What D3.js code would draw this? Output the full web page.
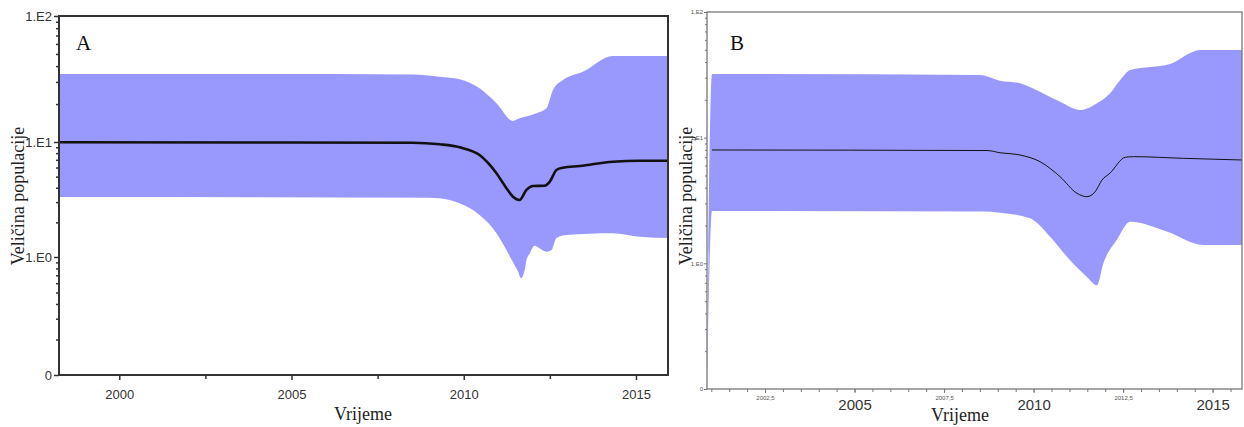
<!DOCTYPE html>
<html><head><meta charset="utf-8">
<script src="https://cdn.jsdelivr.net/npm/d3@7"></script>
<style>body{margin:0;background:#fff}svg{display:block}</style>
</head><body><svg id="c" width="1244" height="427"></svg>
<script>
// ---------- Panel A data ----------
const aUpperYears = [1998.25, 2008.5, 2009.3, 2009.88, 2010.46, 2010.95, 2011.43, 2011.62, 2012.11, 2012.4, 2012.59, 2012.88, 2013.46, 2014.33, 2015.93];
const aUpper      = [34.7, 34.4, 33.0, 31.5, 26.7, 20.3, 14.7, 15.4, 16.9, 18.5, 25.9, 31.0, 36.1, 48.2, 48.2];
const aLowerYears = [1998.25, 2009.0, 2009.3, 2009.88, 2010.46, 2010.95, 2011.24, 2011.45, 2011.58, 2011.66, 2011.78, 2011.82, 2011.92, 2012.06, 2012.2, 2012.4, 2012.55, 2012.69, 2012.98, 2014.33, 2015.11, 2015.93];
const aLower      = [3.32, 3.28, 3.24, 2.93, 2.32, 1.61, 1.15, 0.88, 0.75, 0.66, 0.80, 0.94, 1.08, 1.25, 1.19, 1.11, 1.15, 1.46, 1.55, 1.61, 1.50, 1.46];
const aMedianYears = [1998.25, 2005, 2008.5, 2009.3, 2009.88, 2010.46, 2010.95, 2011.24, 2011.43, 2011.62, 2011.82, 2012.01, 2012.35, 2012.5, 2012.69, 2012.88, 2013.37, 2014.33, 2015.11, 2015.93];
const aMedian      = [9.95, 9.9, 9.85, 9.55, 9.0, 7.7, 5.35, 3.96, 3.34, 3.13, 3.83, 4.14, 4.17, 4.52, 5.71, 5.98, 6.18, 6.74, 6.88, 6.88];
const aXTicks = [2000, 2005, 2010, 2015];
const aXMinor = [2002.5, 2007.5, 2012.5];
const aYTicks = [0.1, 1, 10, 100];
const aYLabels = ["0", "1.E0", "1.E1", "1.E2"];

// ---------- Panel B data ----------
const bUpperYears = [2000.88, 2001.02, 2008.5, 2009.06, 2009.62, 2010.27, 2010.74, 2011.30, 2011.77, 2012.13, 2012.42, 2012.70, 2013.81, 2014.46, 2014.64, 2015.82];
const bUpper      = [0.1, 32.1, 31.5, 28.4, 27.1, 22.5, 19.3, 16.6, 18.8, 22.5, 28.8, 34.6, 38.6, 48.3, 49.8, 49.8];
const bLowerYears = [2000.88, 2001.02, 2008.6, 2009.06, 2009.90, 2010.46, 2011.02, 2011.49, 2011.77, 2011.95, 2012.32, 2012.70, 2013.72, 2014.74, 2015.82];
const bLower      = [0.1, 2.61, 2.58, 2.53, 2.28, 1.63, 1.06, 0.78, 0.67, 1.00, 1.53, 2.14, 1.79, 1.40, 1.40];
const bMedianYears = [2001.02, 2008.7, 2009.06, 2009.62, 2010.18, 2010.74, 2011.21, 2011.49, 2011.72, 2011.91, 2012.13, 2012.56, 2012.79, 2014.18, 2015.82];
const bMedian      = [7.98, 7.9, 7.59, 7.28, 6.44, 4.89, 3.61, 3.39, 3.72, 4.60, 5.21, 6.98, 7.06, 6.85, 6.64];
const bXTicks = [2005, 2010, 2015];
const bXSmall = [2002.5, 2007.5, 2012.5];
const bXSmallLabels = ["2002,5", "2007,5", "2012,5"];
const bYTicks = [0.1, 1, 10, 100];
const bYLabels = ["0", "1,E0", "1,E1", "1,E2"];

const yTitle = "Veličina populacije";
const xTitle = "Vrijeme";
const bandColor = "#9999fd";

const svg = d3.select("#c");
svg.append("rect").attr("width", 1244).attr("height", 427).attr("fill", "#fff");

function minorLog(lo, hi) {
  const out = [];
  for (let d = lo; d < hi - 1e-9; d *= 10)
    for (let k = 2; k <= 9; k++) out.push(+(k * d).toPrecision(3));
  return out;
}
function zip(xs, ys) { return xs.map((x, i) => [x, ys[i]]); }

function drawBand(g, x, y, bottom, upYears, up, loYears, lo) {
  const area = d3.area().x(d => x(d[0])).y0(bottom).y1(d => y(d[1])).curve(d3.curveMonotoneX);
  g.append("path").attr("d", area(zip(upYears, up))).attr("fill", bandColor);
  g.append("path").attr("d", area(zip(loYears, lo))).attr("fill", "#fff");
}

// ================= Panel A =================
(function () {
  const L = 59, R = 668, T = 16, B = 375;
  const x = d3.scaleLinear().domain([1998.25, 2015.93]).range([L, R]);
  const y = d3.scaleLog().domain([0.1, 1, 10, 100]).range([B, 257, 142, T]);
  const g = svg.append("g");
  drawBand(g, x, y, B, aUpperYears, aUpper, aLowerYears, aLower);
  g.append("path").attr("d", d3.line().x(d => x(d[0])).y(d => y(d[1])).curve(d3.curveMonotoneX)(zip(aMedianYears, aMedian)))
    .attr("fill", "none").attr("stroke", "#111").attr("stroke-width", 2.6);

  g.append("rect").attr("x", L).attr("y", T).attr("width", R - L).attr("height", B - T)
    .attr("fill", "none").attr("stroke", "#333").attr("stroke-width", 2);

  g.append("g").attr("transform", `translate(0,${B})`)
    .call(d3.axisBottom(x).tickValues(aXTicks).tickFormat(d3.format("d")).tickSize(5).tickPadding(10));
  g.append("g").attr("transform", `translate(0,${B})`)
    .call(d3.axisBottom(x).tickValues(aXMinor).tickFormat("").tickSize(4));
  g.append("g").attr("transform", `translate(${L},0)`)
    .call(d3.axisLeft(y).tickValues(aYTicks).tickFormat((d, i) => aYLabels[i]).tickSize(5).tickPadding(2));
  g.append("g").attr("transform", `translate(${L},0)`)
    .call(d3.axisLeft(y).tickValues(minorLog(0.1, 100)).tickFormat("").tickSize(3));
  g.selectAll(".domain").remove();
  g.selectAll(".tick line").attr("stroke", "#333").attr("stroke-width", 1.5);
  g.selectAll(".tick text").attr("fill", "#333").style("font-family", "Liberation Sans, Arial, sans-serif").style("font-size", "13px");

  g.append("text").attr("x", 76).attr("y", 50).text("A")
    .style("font-family", "Liberation Serif, Times New Roman, serif").style("font-size", "21px").attr("fill", "#111");
  g.append("text").attr("x", 363).attr("y", 420).attr("text-anchor", "middle").text(xTitle)
    .style("font-family", "Liberation Serif, Times New Roman, serif").style("font-size", "18px").attr("fill", "#222");
  g.append("text").attr("transform", "translate(24,196) rotate(-90)").attr("text-anchor", "middle").text(yTitle)
    .style("font-family", "Liberation Serif, Times New Roman, serif").style("font-size", "18px").attr("fill", "#222");
})();

// ================= Panel B =================
(function () {
  const L = 707, R = 1242, T = 12, B = 389;
  const x = d3.scaleLinear().domain([2000.88, 2015.82]).range([L, R]);
  const y = d3.scaleLog().domain([0.1, 100]).range([B, T]);
  const g = svg.append("g");
  drawBand(g, x, y, B, bUpperYears, bUpper, bLowerYears, bLower);
  g.append("path").attr("d", d3.line().x(d => x(d[0])).y(d => y(d[1])).curve(d3.curveMonotoneX)(zip(bMedianYears, bMedian)))
    .attr("fill", "none").attr("stroke", "#111").attr("stroke-width", 1);

  g.append("rect").attr("x", L).attr("y", T).attr("width", R - L).attr("height", B - T)
    .attr("fill", "none").attr("stroke", "#777").attr("stroke-width", 1.3);

  const minorX = d3.range(2001, 2015.8, 0.5);
  g.append("g").attr("transform", `translate(0,${B})`)
    .call(d3.axisBottom(x).tickValues(minorX).tickFormat("").tickSize(3));
  g.append("g").attr("transform", `translate(0,${B})`)
    .call(d3.axisBottom(x).tickValues(bXSmall).tickFormat((d, i) => bXSmallLabels[i]).tickSize(4).tickPadding(3))
    .selectAll("text").style("font-size", "6px").attr("fill", "#555");
  g.append("g").attr("transform", `translate(0,${B})`)
    .call(d3.axisBottom(x).tickValues(bXTicks).tickFormat(d3.format("d")).tickSize(4).tickPadding(6))
    .selectAll("text").style("font-size", "15px").attr("fill", "#333");
  g.append("g").attr("transform", `translate(${L},0)`)
    .call(d3.axisLeft(y).tickValues(bYTicks).tickFormat((d, i) => bYLabels[i]).tickSize(3).tickPadding(1))
    .selectAll("text").style("font-size", "6px").attr("fill", "#555");
  g.append("g").attr("transform", `translate(${L},0)`)
    .call(d3.axisLeft(y).tickValues(minorLog(0.1, 100)).tickFormat("").tickSize(2));
  g.selectAll(".domain").remove();
  g.selectAll(".tick line").attr("stroke", "#777").attr("stroke-width", 1);
  g.selectAll(".tick text").style("font-family", "Liberation Sans, Arial, sans-serif");

  g.append("text").attr("x", 730).attr("y", 50).text("B")
    .style("font-family", "Liberation Serif, Times New Roman, serif").style("font-size", "21px").attr("fill", "#111");
  g.append("text").attr("x", 960).attr("y", 421).attr("text-anchor", "middle").text(xTitle)
    .style("font-family", "Liberation Serif, Times New Roman, serif").style("font-size", "18px").attr("fill", "#222");
  g.append("text").attr("transform", "translate(692,196) rotate(-90)").attr("text-anchor", "middle").text(yTitle)
    .style("font-family", "Liberation Serif, Times New Roman, serif").style("font-size", "18px").attr("fill", "#222");
})();
</script></body></html>
